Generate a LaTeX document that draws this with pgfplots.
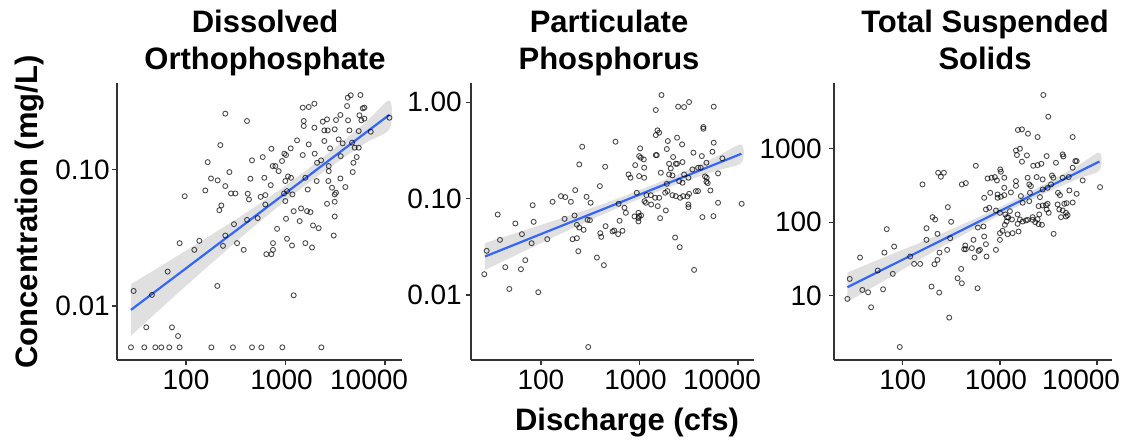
\documentclass[border=0pt]{standalone}
\usepackage{pgfplots}
\pgfplotsset{compat=1.18}
\usepackage{fontspec}
\setmainfont{Liberation Sans}
\definecolor{axisgray}{HTML}{333333}
\definecolor{ggblue}{HTML}{3366FF}
\pgfplotsset{
  panel/.style={
    scale only axis,
    axis x line*=bottom, axis y line*=left,
    axis line style={axisgray, line width=1.4bp},
    tick style={axisgray, line width=1.2bp},
    tick align=outside,
    major tick length=5bp,
    xtick={2,3,4},
    xticklabels={100,\hspace*{-8bp}1000,\hspace*{-32bp}10000},
    tick label style={font=\fontsize{28bp}{32bp}\selectfont, text=black},
    xticklabel style={inner sep=0pt, anchor=north, yshift=-5bp},
    yticklabel style={inner sep=0pt, anchor=east},
    height=277bp,
  },
  pts/.style={only marks, mark=o, mark size=2.5bp, mark options={draw=black, draw opacity=0.7, line width=0.9bp}},
  fit/.style={ggblue, line width=2.2bp, no marks},
  band/.style={fill=gray!60, fill opacity=0.4, draw=none, no marks, smooth},
}
\begin{document}
\begin{tikzpicture}
\useasboundingbox (0,0) rectangle (1135bp,444bp);
% ---------- Panel 1: Dissolved Orthophosphate
\begin{axis}[panel, at={(117bp,84bp)}, anchor=south west, width=285bp,
  xmin=1.307, xmax=4.17, ymin=-2.397, ymax=-0.363,
  ytick={-2,-1}, yticklabels={0.01,0.10}, yticklabel style={xshift=-2bp}]
\addplot[pts] coordinates {
(1.447,-2.304) (1.581,-2.304) (1.692,-2.304) (1.752,-2.304) (1.832,-2.304) (1.936,-2.304)
(2.255,-2.304) (2.472,-2.304) (2.663,-2.304) (2.757,-2.304) (2.968,-2.304) (3.360,-2.304)
(1.474,-1.890) (1.658,-1.919) (1.601,-2.157) (1.859,-2.157) (1.920,-2.221) (1.816,-1.748)
(1.936,-1.539) (2.084,-1.588) (2.134,-1.522) (2.315,-1.853) (2.372,-1.559) (2.395,-1.483)
(2.482,-1.400) (2.513,-1.539) (2.580,-1.588) (2.613,-1.368) (2.720,-1.355) (2.807,-1.620)
(2.858,-1.620) (2.874,-1.588) (2.874,-1.539) (2.915,-1.434) (3.005,-1.360) (3.015,-1.507)
(3.065,-1.556) (3.082,-1.922) (3.142,-1.377) (3.199,-1.539) (3.266,-1.571) (3.276,-1.409)
(3.333,-1.429) (3.484,-1.483) (3.494,-1.343)
(1.987,-1.194) (2.218,-0.944) (2.194,-1.152) (2.251,-1.064) (2.318,-1.078) (2.345,-0.819)
(2.395,-0.588) (2.395,-1.120) (2.355,-1.262) (2.335,-1.297) (2.436,-1.017) (2.452,-1.174)
(2.496,-1.174) (2.613,-0.642) (2.620,-1.176) (2.647,-1.066) (2.663,-0.931) (2.633,-1.218)
(2.750,-1.199) (2.797,-1.186) (2.771,-0.907) (2.787,-1.059) (2.797,-1.255) (2.851,-1.113)
(2.858,-0.846) (2.871,-0.973) (2.898,-0.973) (2.931,-1.010) (2.965,-0.936) (2.988,-0.882)
(3.005,-0.892) (2.998,-1.083) (3.025,-1.049) (3.052,-0.843) (3.055,-1.059) (2.985,-1.174)
(3.015,-1.157) (2.998,-1.230) (3.069,-1.181) (3.082,-1.304) (3.116,-0.784) (3.156,-1.284)
(3.173,-0.892) (3.183,-0.679) (3.199,-1.059) (3.223,-1.145) (3.233,-0.814) (3.216,-1.304)
(3.250,-1.311) (3.233,-0.539) (3.290,-0.515) (3.173,-0.544) (3.183,-0.642) (3.290,-0.691)
(3.293,-0.882) (3.317,-0.949) (3.313,-1.083) (3.357,-0.931) (3.374,-0.647) (3.390,-0.711)
(3.424,-0.711) (3.390,-0.789) (3.417,-0.630) (3.447,-0.843) (3.434,-0.973) (3.434,-1.010)
(3.430,-1.083) (3.467,-1.132) (3.494,-1.181) (3.507,-1.169) (3.417,-1.250) (3.494,-1.235)
(3.494,-0.703) (3.507,-0.635) (3.551,-0.598) (3.554,-0.900) (3.534,-0.777) (3.551,-1.064)
(3.574,-0.806) (3.601,-1.127) (3.625,-0.471) (3.655,-0.453) (3.618,-0.532) (3.628,-0.637)
(3.642,-0.711) (3.668,-0.801) (3.682,-0.949) (3.675,-1.017) (3.715,-0.907) (3.695,-0.838)
(3.735,-0.838) (3.735,-0.716) (3.742,-0.600) (3.752,-0.451) (3.776,-0.549) (3.792,-0.544)
(3.762,-0.637) (3.792,-0.625) (3.856,-0.721) (4.044,-0.618)
};
\addplot[band] coordinates {
(1.447,-1.839) (1.8,-1.684) (2.2,-1.503) (2.6,-1.318) (3.0,-1.117) (3.4,-0.896) (3.8,-0.655) (4.044,-0.491)
(4.044,-0.701) (3.8,-0.805) (3.4,-1.006) (3.0,-1.227) (2.6,-1.468) (2.2,-1.723) (1.8,-1.984) (1.447,-2.219)
} -- cycle;
\addplot[fit] coordinates {(1.447,-2.029) (4.044,-0.596)};
\end{axis}
% ---------- Panel 2: Particulate Phosphorus
\begin{axis}[panel, at={(471bp,84bp)}, anchor=south west, width=283bp,
  xmin=1.290, xmax=4.163, ymin=-2.676, ymax=0.201,
  ytick={-2,-1,0}, yticklabels={0.01,0.10,1.00}, yticklabel style={xshift=-4bp}]
\addplot[pts] coordinates {
(3.224,0.076) (3.166,-0.080) (3.393,-0.045) (3.453,-0.049) (3.504,0.003) (3.754,-0.045)
(3.649,-0.256) (3.649,-0.274) (3.183,-0.291) (3.200,-0.315) (3.166,-0.340) (3.288,-0.402)
(3.382,-0.367) (3.433,-0.437) (3.754,-0.419) (2.757,-0.409) (2.419,-0.461) (3.007,-0.478)
(3.278,-0.485) (2.997,-0.558) (3.014,-0.575) (3.044,-0.593) (3.166,-0.548) (3.176,-0.548)
(3.548,-0.523) (3.633,-0.558) (3.741,-0.513) (2.389,-0.645) (2.652,-0.669) (2.957,-0.652)
(3.048,-0.679) (3.301,-0.638) (3.369,-0.638) (3.382,-0.638) (3.437,-0.620) (3.342,-0.568)
(3.318,-0.686) (3.538,-0.697) (3.595,-0.679) (3.622,-0.679) (3.680,-0.627) (3.842,-0.582)
(3.217,-0.731) (3.301,-0.749) (3.335,-0.759) (3.453,-0.749) (3.497,-0.783) (3.666,-0.769)
(3.683,-0.783) (3.798,-0.738) (2.889,-0.749) (2.909,-0.783) (2.997,-0.766) (3.048,-0.783)
(3.403,-0.818) (3.437,-0.835) (3.680,-0.825) (3.693,-0.839) (3.720,-0.915) (2.598,-0.870)
(2.348,-0.912) (2.203,-0.974) (2.247,-0.984) (2.304,-1.033) (2.463,-0.981) (2.504,-1.043)
(2.118,-1.033) (1.916,-1.068) (1.561,-1.165) (1.740,-1.258) (1.926,-1.241) (2.788,-1.054)
(2.848,-1.095) (2.862,-1.147) (2.973,-0.939) (3.071,-0.964) (3.115,-0.964) (3.051,-1.026)
(3.065,-1.043) (3.159,-0.991) (3.200,-0.991) (3.261,-0.939) (3.284,-0.922) (3.335,-0.964)
(3.369,-0.974) (3.413,-0.991) (3.443,-0.974) (3.487,-0.977) (3.504,-0.950) (3.572,-0.922)
(3.595,-0.922) (3.278,-0.846) (3.497,-1.061) (3.497,-1.088) (3.639,-1.192) (3.751,-1.182)
(3.798,-1.043) (4.038,-1.054) (3.119,-1.061) (3.186,-1.078) (3.268,-1.123) (2.990,-1.147)
(2.997,-1.182)
(1.584,-1.428) (1.449,-1.542) (1.807,-1.369) (1.905,-1.463) (2.064,-1.421) (2.240,-1.210)
(2.341,-1.175) (2.365,-1.272) (2.389,-1.300) (2.433,-1.324) (2.473,-1.220) (2.497,-1.224)
(2.321,-1.421) (2.365,-1.411) (2.379,-1.546) (2.568,-1.612) (2.639,-1.691) (2.602,-1.359)
(2.612,-1.397) (2.656,-1.286) (2.727,-1.341) (2.744,-1.331) (2.784,-1.369) (2.828,-1.334)
(2.798,-1.230) (2.950,-1.185) (2.990,-1.203) (2.990,-1.237) (3.017,-1.175) (3.210,-1.203)
(3.362,-1.404) (3.409,-1.504) (3.555,-1.740) (1.638,-1.712) (1.797,-1.733) (1.841,-1.639)
(1.425,-1.785) (1.679,-1.938) (1.973,-1.972) (2.480,-2.541)
};
\addplot[band] coordinates {
(1.432,-1.461) (1.8,-1.340) (2.2,-1.206) (2.6,-1.067) (3.0,-0.913) (3.4,-0.744) (3.8,-0.555) (4.035,-0.439)
(4.035,-0.629) (3.8,-0.705) (3.4,-0.844) (3.0,-1.003) (2.6,-1.177) (2.2,-1.366) (1.8,-1.560) (1.432,-1.741)
} -- cycle;
\addplot[fit] coordinates {(1.432,-1.601) (4.035,-0.534)};
\end{axis}
% ---------- Panel 3: Total Suspended Solids
\begin{axis}[panel, at={(834bp,84bp)}, anchor=south west, width=278bp,
  xmin=1.292, xmax=4.154, ymin=0.123, ymax=3.895,
  ytick={1,2,3}, yticklabels={10,100,1000}, yticklabel style={xshift=-7bp}]
\addplot[pts] coordinates {
(3.447,3.732) (3.498,3.436) (3.185,3.255) (3.227,3.264) (3.289,3.205) (3.388,3.159)
(3.749,3.159) (3.165,2.977) (3.206,3.000) (3.175,2.914) (3.278,2.909) (3.227,2.823)
(3.481,2.900) (3.646,2.923) (3.653,2.895) (3.776,2.832) (3.790,2.832) (3.343,2.768)
(3.388,2.777) (3.426,2.795) (3.577,2.809) (3.749,2.741) (2.752,2.768) (2.364,2.673)
(2.423,2.673) (2.392,2.618) (2.203,2.514) (2.608,2.514) (2.649,2.532) (2.873,2.595)
(2.914,2.605) (2.948,2.614) (3.003,2.718) (3.010,2.686) (2.969,2.568) (3.045,2.605)
(3.165,2.559) (3.285,2.605) (3.378,2.614) (3.440,2.582) (3.536,2.636) (3.550,2.605)
(3.646,2.605) (3.708,2.614) (3.852,2.568) (4.031,2.477) (3.045,2.468) (3.165,2.495)
(3.302,2.514) (3.319,2.491) (3.526,2.514) (3.113,2.405) (2.976,2.377) (2.900,2.400)
(2.838,2.332) (2.976,2.332) (3.010,2.346) (3.045,2.368) (3.216,2.355) (3.309,2.400)
(3.412,2.341) (3.440,2.445) (3.491,2.468) (3.598,2.400) (3.618,2.368) (3.715,2.432)
(3.790,2.386) (3.234,2.264) (3.302,2.286) (3.398,2.218) (3.440,2.227) (3.474,2.232)
(3.491,2.250) (3.481,2.173) (3.502,2.127) (3.594,2.241) (3.663,2.250) (3.687,2.259)
(3.749,2.268) (3.611,2.173) (3.646,2.159) (3.680,2.127) (3.697,2.096) (3.629,2.068)
(2.464,2.205) (2.306,2.068) (2.333,2.036) (2.498,2.005) (2.856,2.173) (2.890,2.195)
(2.959,2.159) (3.000,2.127) (3.055,2.105) (3.072,2.068) (3.103,2.150) (3.124,2.036)
(3.182,2.105) (3.206,2.036) (3.268,2.023) (3.337,2.068) (3.388,2.041) (3.405,2.105)
(2.244,1.918) (1.835,1.905) (2.244,1.759) (2.357,1.841) (2.488,1.782) (2.773,1.927)
(2.831,1.941) (2.838,1.805) (2.728,1.759) (2.856,1.700) (2.794,1.623) (2.780,1.609)
(2.643,1.682) (2.632,1.632) (2.649,1.632) (2.711,1.646) (2.457,1.623) (2.378,1.586)
(2.959,1.623) (2.739,1.518) (2.862,1.532) (3.000,1.759) (3.000,1.850) (3.027,1.882)
(3.079,1.836) (3.130,1.850) (3.192,1.873) (3.182,1.977) (3.234,2.009) (3.285,2.032)
(3.337,2.032) (3.364,2.000) (3.398,1.973) (3.433,1.964) (3.553,1.841) (3.680,2.077)
(3.051,1.964) (3.069,2.009) (3.086,2.064) (1.911,1.668) (1.811,1.586) (1.560,1.518)
(2.076,1.532) (2.117,1.432) (2.179,1.432) (2.326,1.427) (2.357,1.486) (2.601,1.364)
(1.742,1.341) (1.897,1.296) (1.454,1.227) (2.564,1.236) (2.608,1.168) (2.296,1.123)
(2.375,1.041) (2.770,1.100) (1.584,1.077) (1.643,1.045) (1.797,1.086) (1.430,0.955)
(1.674,0.841) (2.478,0.700) (1.969,0.300)
};
\addplot[band] coordinates {
(1.430,1.314) (1.8,1.518) (2.2,1.732) (2.6,1.961) (3.0,2.205) (3.4,2.474) (3.8,2.768) (4.024,2.946)
(4.024,2.706) (3.8,2.588) (3.4,2.354) (3.0,2.095) (2.6,1.811) (2.2,1.512) (1.8,1.198) (1.430,0.914)
} -- cycle;
\addplot[fit] coordinates {(1.430,1.114) (4.024,2.826)};
\end{axis}
% ---------- titles and labels
\begin{scope}[font=\bfseries\fontsize{31bp}{36bp}\selectfont]
\node[anchor=base] at (265bp,411bp) {Dissolved};
\node[anchor=base] at (265bp,374bp) {Orthophosphate};
\node[anchor=base] at (609bp,411bp) {Particulate};
\node[anchor=base] at (609bp,374bp) {Phosphorus};
\node[anchor=base] at (985bp,411bp) {Total Suspended};
\node[anchor=base] at (985bp,374bp) {Solids};
\node[anchor=base] at (627bp,14bp) {Discharge (cfs)};
\node[anchor=base, rotate=90] at (37bp,232bp) {Concentration (mg/L)};
\end{scope}
\end{tikzpicture}
\end{document}
